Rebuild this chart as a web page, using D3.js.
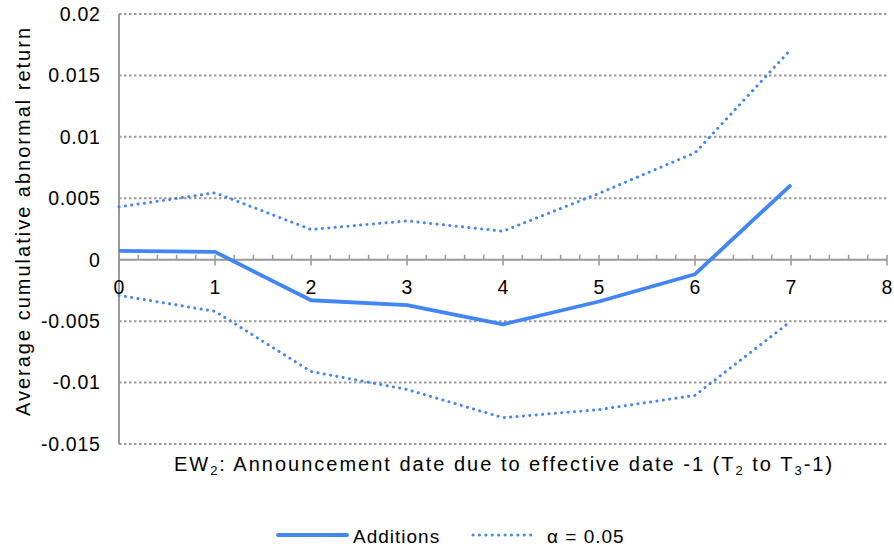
<!DOCTYPE html>
<html><head><meta charset="utf-8">
<script src="https://d3js.org/d3.v7.min.js"></script>
<style>body{margin:0;background:#fff}text{font-family:"Liberation Sans",Arial,sans-serif;fill:#000}</style>
</head><body>
<svg id="c" width="894" height="550"></svg>
<script>
const days = [0,1,2,3,4,5,6,7];
const additions = [0.00072,0.00064,-0.0033,-0.0037,-0.00526,-0.0034,-0.00118,0.0061];
const upper = [0.0043,0.00545,0.00246,0.00316,0.00232,0.0054,0.0087,0.01713];
const lower = [-0.0029,-0.0042,-0.0091,-0.01056,-0.01286,-0.0122,-0.01104,-0.0050];
const yTicks = [0.02,0.015,0.01,0.005,0,-0.005,-0.01,-0.015];
const yTickLabels = ["0.02","0.015","0.01","0.005","0","-0.005","-0.01","-0.015"];
const xTicks = [0,1,2,3,4,5,6,7,8];

const svg = d3.select("#c");
const x = d3.scaleLinear().domain([0,8]).range([119,887]);
const y = d3.scaleLinear().domain([-0.015,0.02]).range([444,14]);
const color = "#4285F4";
const dots = "0.1,6.3";

// gridlines
svg.append("g").selectAll("line").data(yTicks.filter(d=>d!==0)).join("line")
  .attr("x1",x(0)).attr("x2",x(8)).attr("y1",d=>y(d)).attr("y2",d=>y(d))
  .attr("stroke","#999").attr("stroke-width",2).attr("stroke-dasharray","2.5,2.5");

// y axis line
svg.append("line").attr("x1",x(0)).attr("x2",x(0)).attr("y1",y(0.02)).attr("y2",y(-0.015))
  .attr("stroke","#999").attr("stroke-width",2);

// y tick labels
svg.append("g").selectAll("text").data(yTicks).join("text")
  .attr("x",100.5).attr("y",d=>y(d)).attr("dy","0.35em").attr("text-anchor","end")
  .attr("font-size",19.5).attr("letter-spacing",0.7).text((d,i)=>yTickLabels[i]);

// x axis at 0
const y0 = y(0);
svg.append("line").attr("x1",x(0)).attr("x2",x(8)).attr("y1",y0).attr("y2",y0)
  .attr("stroke","#999").attr("stroke-width",2);
const minor = d3.range(0,40).map(i=>i/5).filter(v=>Math.abs(v-Math.round(v))>1e-9);
svg.append("g").selectAll("line").data(minor).join("line")
  .attr("x1",d=>x(d)).attr("x2",d=>x(d)).attr("y1",y0-5).attr("y2",y0)
  .attr("stroke","#999").attr("stroke-width",1.5);
svg.append("g").selectAll("line").data(xTicks).join("line")
  .attr("x1",d=>x(d)).attr("x2",d=>x(d)).attr("y1",y0-5).attr("y2",y0+6)
  .attr("stroke","#999").attr("stroke-width",1.5);
svg.append("g").selectAll("text").data(xTicks).join("text")
  .attr("x",d=>x(d)).attr("y",294).attr("text-anchor","middle")
  .attr("font-size",19.5).text(d=>d);

// lines
const line = d3.line().x((d,i)=>x(days[i])).y(d=>y(d));
svg.append("path").datum(upper).attr("d",line).attr("fill","none").attr("stroke",color)
  .attr("stroke-width",3).attr("stroke-dasharray",dots).attr("stroke-linecap","round");
svg.append("path").datum(lower).attr("d",line).attr("fill","none").attr("stroke",color)
  .attr("stroke-width",3).attr("stroke-dasharray",dots).attr("stroke-linecap","round");
svg.append("path").datum(additions).attr("d",line).attr("fill","none").attr("stroke",color)
  .attr("stroke-width",3.8).attr("stroke-linejoin","round");

// axis titles
svg.append("text").attr("transform","translate(30,221) rotate(-90)").attr("text-anchor","middle")
  .attr("font-size",20).attr("letter-spacing",2).text("Average cumulative abnormal return");
const xt = svg.append("text").attr("x",504).attr("y",471).attr("text-anchor","middle")
  .attr("font-size",20).attr("letter-spacing",2);
xt.append("tspan").text("EW");
xt.append("tspan").attr("font-size",13).attr("dy",4).text("2");
xt.append("tspan").attr("dy",-4).text(": Announcement date due to effective date -1 (T");
xt.append("tspan").attr("font-size",13).attr("dy",4).text("2");
xt.append("tspan").attr("dy",-4).text(" to T");
xt.append("tspan").attr("font-size",13).attr("dy",4).text("3");
xt.append("tspan").attr("dy",-4).text("-1)");

// legend
const ly = 535;
svg.append("line").attr("x1",278).attr("x2",347).attr("y1",ly).attr("y2",ly)
  .attr("stroke",color).attr("stroke-width",3.8).attr("stroke-linecap","round");
svg.append("text").attr("x",353).attr("y",543).attr("font-size",19).attr("letter-spacing",1).text("Additions");
svg.append("line").attr("x1",473).attr("x2",535).attr("y1",ly).attr("y2",ly)
  .attr("stroke",color).attr("stroke-width",3).attr("stroke-dasharray",dots).attr("stroke-linecap","round");
svg.append("text").attr("x",547).attr("y",543).attr("font-size",19).attr("letter-spacing",1).text("α = 0.05");
</script>
</body></html>
